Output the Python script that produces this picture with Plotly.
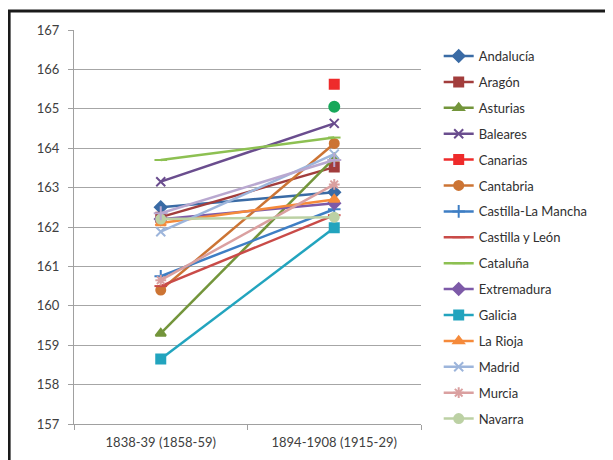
import plotly.graph_objects as go

categories = ["1838-39 (1858-59)", "1894-1908 (1915-29)"]

regions = ["Andalucía", "Aragón", "Asturias", "Baleares", "Canarias", "Cantabria",
           "Castilla-La Mancha", "Castilla y León", "Cataluña", "Extremadura",
           "Galicia", "La Rioja", "Madrid", "Murcia", "Navarra"]

first_period = [162.5, 162.25, 159.3, 163.15, None, 160.4,
                160.75, 160.5, 163.7, 162.2,
                158.65, 162.1, 161.88, 160.65, 162.2]

second_period = [162.88, 163.52, 163.75, 164.63, 165.62, 164.12,
                 162.45, 162.3, 164.27, 162.6,
                 161.98, 162.7, 163.85, 163.08, 162.25]

# series whose legend entries fall outside the visible picture
extra_names = ["País Vasco", "Valencia"]
extra_first = [None, 162.35]
extra_second = [165.05, 163.7]

colors = ["#3A6BA5", "#A23D3C", "#73953B", "#6A4D8E", "#EE2B2B", "#CC7434",
          "#3E7EC4", "#C94B48", "#8DC052", "#7D5AA8",
          "#22A4BE", "#F58A3B", "#9DB5DB", "#DAA0A0", "#BCD1A4"]
symbols = ["diamond", "square", "triangle-up", "x-thin-open", "square", "circle",
           "cross-thin-open", "line-ew-open", "line-ew-open", "diamond",
           "square", "triangle-up", "x-thin-open", "asterisk-open", "circle"]
extra_colors = ["#17A85A", "#B9A8D0"]
extra_symbols = ["circle", "cross-thin-open"]

fig = go.Figure()
for i, name in enumerate(regions):
    fig.add_trace(go.Scatter(
        x=categories, y=[first_period[i], second_period[i]], name=name,
        mode="lines+markers", legendgroup=name,
        line=dict(color=colors[i], width=2.5),
        marker=dict(symbol=symbols[i], size=9, color=colors[i],
                    line=dict(color=colors[i], width=2)),
    ))
for i, name in enumerate(extra_names):
    fig.add_trace(go.Scatter(
        x=categories, y=[extra_first[i], extra_second[i]], name=name,
        mode="lines+markers", showlegend=False,
        line=dict(color=extra_colors[i], width=2.5),
        marker=dict(symbol=extra_symbols[i], size=10, color=extra_colors[i],
                    line=dict(color=extra_colors[i], width=2)),
    ))

font = "Lato, 'Open Sans', sans-serif"
fig.update_layout(
    width=613, height=460,
    margin=dict(l=66, r=200, t=22, b=44),
    paper_bgcolor="white", plot_bgcolor="white",
    font=dict(family=font, size=13, color="#404040"),
    showlegend=True,
    legend=dict(x=1.051, xanchor="left", y=0.972, yanchor="top",
                font=dict(family=font, size=13, color="#303030"),
                tracegroupgap=6, traceorder="grouped",
                itemwidth=30, bgcolor="rgba(0,0,0,0)"),
    xaxis=dict(type="category", range=[-0.5, 1.5], showgrid=False,
               showline=True, linecolor="#A0A0A0", linewidth=1,
               ticks="outside", tickson="boundaries", ticklen=5,
               tickcolor="#A0A0A0", ticklabelstandoff=6,
               tickfont=dict(size=13, color="#404040")),
    yaxis=dict(range=[157, 167], dtick=1, showgrid=True, gridcolor="#A6A6A6",
               gridwidth=1, showline=True, linecolor="#A0A0A0", linewidth=1,
               ticks="outside", ticklen=5, tickcolor="#A0A0A0", zeroline=False,
               ticklabelstandoff=6,
               tickfont=dict(size=13, color="#404040")),
    shapes=[dict(type="rect", xref="paper", yref="paper",
                 x0=-0.187, x1=1.545, y0=-0.2, y1=1.048,
                 line=dict(color="#1A1A1A", width=3), layer="below")],
)

fig.write_html("out.html")
